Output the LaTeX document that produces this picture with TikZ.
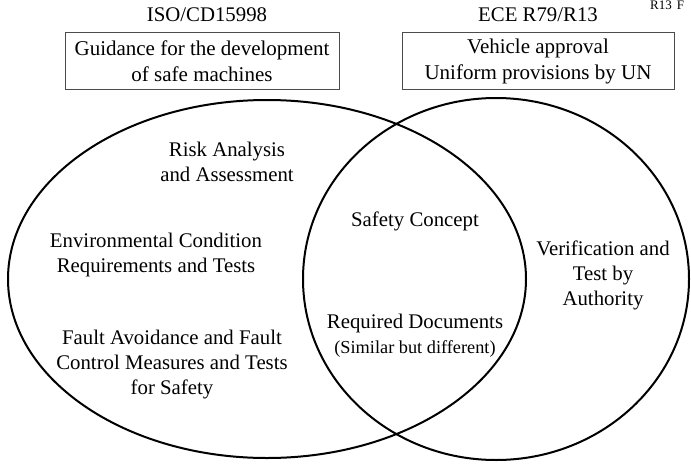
\documentclass[tikz,border=0pt]{standalone}
\usepackage{fontspec}
\setmainfont{Liberation Serif}
\begin{document}
\begin{tikzpicture}[x=1pt,y=-1pt,
  lbl/.style={align=center,inner sep=0pt,font=\fontsize{20.8}{25}\selectfont},
  small/.style={align=center,inner sep=0pt,font=\fontsize{18.3}{22}\selectfont},
  box/.style={draw=black!70,line width=0.9pt,minimum height=57pt,inner sep=0pt,align=center,font=\fontsize{21}{26}\selectfont},
  venn/.style={line width=2pt}]
\useasboundingbox (0,0) rectangle (691,466);
\fill[white] (0,0) rectangle (691,466);
% ellipses
\draw[venn] (267,279) ellipse [x radius=259pt, y radius=179pt];
\draw[venn] (496,279) ellipse [x radius=193pt, y radius=181pt];
% titles
\node[lbl] (iso) at (207,15) {ISO/CD15998};
\node[lbl] (ece) at (538,15) {ECE R79/R13};
\node[anchor=base west,inner sep=0pt,font=\fontsize{13}{15}\selectfont] (corner) at (650,9) {R13\hspace{5pt}F};
% boxes
\node[box,minimum width=274pt] (bl) at (202,61) {Guidance for the development\\of safe machines};
\node[box,minimum width=272pt] (br) at (538,61) {Vehicle approval\\Uniform provisions by UN};
% texts
\node[lbl] (risk) at (227,162) {Risk Analysis\\and Assessment};
\node[lbl] (env) at (156,255) {Environmental Condition\\Requirements and Tests};
\node[lbl] (fault) at (172,365) {Fault Avoidance and Fault\\Control Measures and Tests\\for Safety};
\node[lbl] (safety) at (415,221) {Safety Concept};
\node[lbl] (docs) at (415,323) {Required Documents};
\node[small] (sim) at (415,349) {(Similar but different)};
\node[lbl] (verif) at (603,275) {Verification and\\Test by\\Authority};
\end{tikzpicture}
\end{document}
